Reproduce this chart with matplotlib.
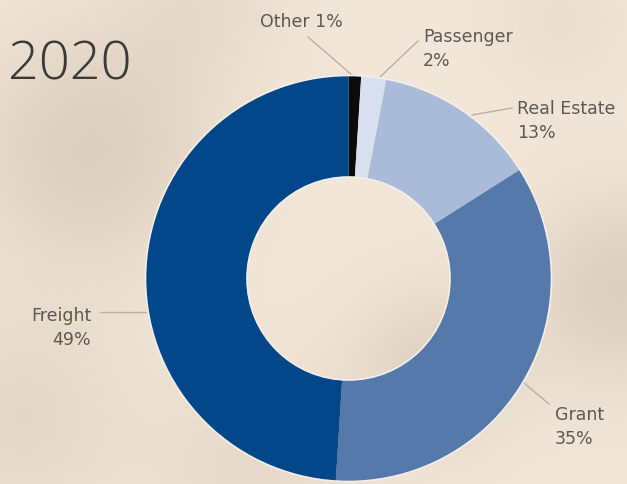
import numpy as np
import matplotlib
matplotlib.use("Agg")
import matplotlib.pyplot as plt

# 2020 revenue mix (percent)
categories = ["Other", "Passenger", "Real Estate", "Grant", "Freight"]
shares = [1, 2, 13, 35, 49]
colors = ["#0b0b0b", "#d8e0f0", "#a9bbd9", "#5479aa", "#02478a"]

W, H = 627, 485
fig = plt.figure(figsize=(W / 100, H / 100), dpi=100)
ax = fig.add_axes([0, 0, 1, 1])
ax.set_xlim(0, W)
ax.set_ylim(H, 0)
ax.set_aspect("equal")
ax.axis("off")

# mottled beige backdrop
yy, xx = np.mgrid[0:H, 0:W]
base = np.array([0.948, 0.905, 0.850])
dark = np.array([0.80, 0.74, 0.67])
shade = np.zeros((H, W))
for cx, cy, s, k in [(90, 150, 90, 0.55), (20, 420, 80, 0.35), (620, 290, 70, 0.55),
                     (200, 0, 60, 0.25), (430, 370, 60, 0.45), (250, 470, 70, 0.3),
                     (560, 20, 50, 0.2)]:
    shade += k * np.exp(-((xx - cx) ** 2 + (yy - cy) ** 2) / (2 * s ** 2))
shade = np.clip(shade, 0, 1)[..., None]
bg = base * (1 - shade) + dark * shade
ax.imshow(bg, extent=[0, W, H, 0], zorder=0, interpolation="bilinear")

cx, cy, r = 348.5, 279.5, 203
wedges, _ = ax.pie(shares, colors=colors, radius=r, center=(cx, cy),
                   startangle=270, counterclock=True,
                   wedgeprops=dict(width=r * 0.5, edgecolor="none"))
ax.set_xlim(0, W)
ax.set_ylim(H, 0)
for rad in (r, r * 0.5):
    ax.add_patch(plt.Circle((cx, cy), rad, fill=False, ec="#f4efe8", lw=1.2, zorder=3))

ax.text(8, 66, "2020", fontsize=39, family="Open Sans", weight=300,
        color="#3c3a38", va="center", ha="left")

lab = dict(fontsize=12.5, family="DejaVu Sans", color="#5c5854", linespacing=1.45)
line = dict(color="#b9b1a7", lw=1)

ax.text(301, 22, "Other 1%", ha="center", va="center", **lab)
ax.plot([308, 352], [38, 76], **line)

ax.text(423, 49, "Passenger\n2%", ha="left", va="center", **lab)
ax.plot([418, 380], [42, 78], **line)

ax.text(517, 121, "Real Estate\n13%", ha="left", va="center", **lab)
ax.plot([512, 472], [109, 116], **line)

ax.text(91, 328, "Freight\n49%", ha="right", va="center", multialignment="right", **lab)
ax.plot([100, 146], [313, 313], **line)

ax.text(555, 427, "Grant\n35%", ha="left", va="center", **lab)
ax.plot([549, 524], [405, 384], **line)

fig.savefig("out.png", dpi=100)
